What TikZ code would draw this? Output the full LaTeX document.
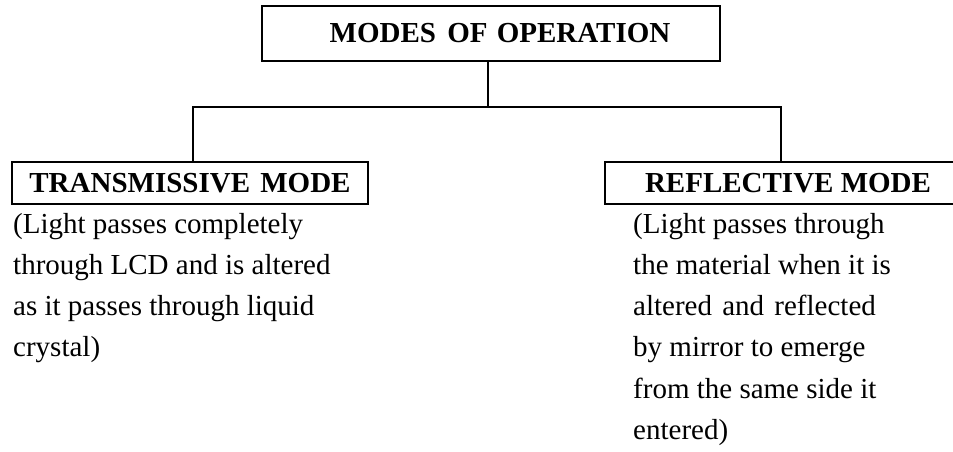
\documentclass[tikz,border=0pt]{standalone}
\usepackage{fontspec}
\setmainfont{Liberation Serif}
\begin{document}
\begin{tikzpicture}[x=1pt,y=-1pt,
  box/.style={draw,line width=2.4pt,inner sep=0pt,font=\fontsize{29}{34}\selectfont\bfseries},
  desc/.style={inner sep=0pt,anchor=north west,align=left,font=\fontsize{29}{41.2}\selectfont},
  conn/.style={line width=2.4pt}]
\useasboundingbox (0,0) rectangle (953,452);
\node[box,minimum width=458pt,minimum height=55pt] (top) at (491,33.5) {\hspace*{18pt}MODES\hspace{4pt} OF\hspace{2pt} OPERATION};
\node[box,minimum width=356pt,minimum height=42pt] (tm) at (190,183) {TRANSMISSIVE\hspace{3pt} MODE};
\node[box,minimum width=352pt,minimum height=42pt] (rm) at (781,183) {\hspace*{14pt}REFLECTIVE MODE};
\coordinate (j) at (488,107);
\draw[conn] (top.south -| j) -- (j);
\draw[conn,line cap=rect] (j) -| ([xshift=3pt]tm.north);
\draw[conn,line cap=rect] (j) -| (rm.north);
\node[desc] (tmd) at (13,213) {(Light passes completely\\through LCD and is altered\\as it passes through liquid\\crystal)};
\node[desc] (rmd) at (633,213) {(Light passes through\\the material when it is\\altered\hspace{3pt} and\hspace{3pt} reflected\\by mirror to emerge\\from the same side it\\entered)};
\end{tikzpicture}
\end{document}
